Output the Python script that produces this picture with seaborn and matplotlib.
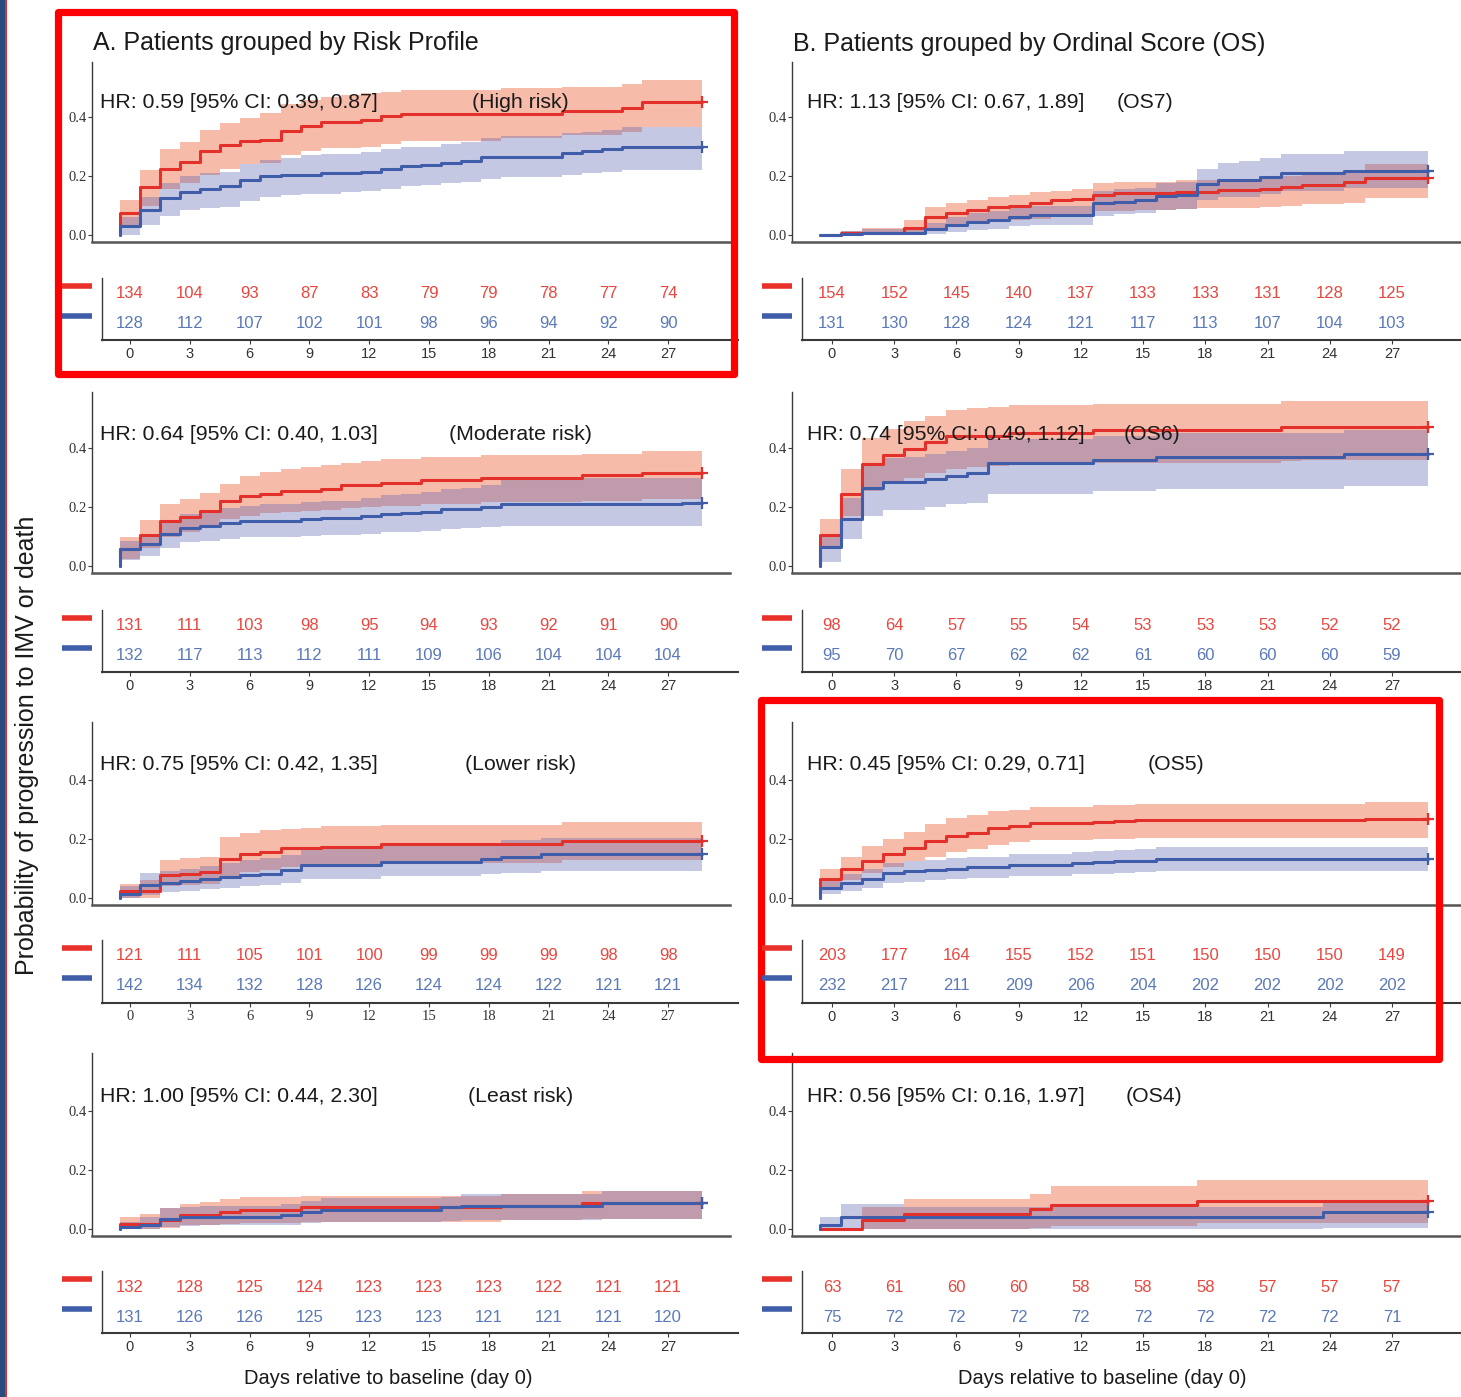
import numpy as np
import pandas as pd
import matplotlib
matplotlib.use("Agg")
import matplotlib.pyplot as plt
import seaborn as sns
from matplotlib.patches import Rectangle
from matplotlib.lines import Line2D

# ---------------- data ----------------
table_days = [0, 3, 6, 9, 12, 15, 18, 21, 24, 27]

# A. Risk profile -- High risk (values per day 0..28; red = first group, blue = second group)
A1_red_est = [.074,.162,.224,.248,.284,.306,.317,.323,.351,.368,.383,.383,.391,.402,.411,.411,.411,.411,.411,.411,.411,.411,.419,.419,.419,.430,.451,.451,.451]
A1_red_hi  = [.119,.221,.290,.315,.356,.381,.395,.412,.445,.458,.468,.475,.482,.485,.490,.490,.490,.490,.490,.497,.497,.497,.503,.503,.503,.512,.525,.525,.525]
A1_red_lo  = [.030,.100,.155,.175,.205,.225,.240,.245,.270,.285,.295,.295,.300,.310,.320,.320,.320,.320,.320,.330,.330,.330,.340,.340,.340,.350,.365,.365,.365]
A1_blue_est = [.030,.085,.125,.147,.157,.165,.188,.200,.203,.203,.210,.210,.213,.225,.235,.238,.245,.250,.265,.265,.265,.265,.278,.285,.290,.300,.300,.300,.300]
A1_blue_hi  = [.060,.130,.175,.200,.210,.215,.240,.255,.260,.270,.275,.275,.280,.290,.300,.300,.310,.315,.330,.335,.335,.335,.345,.350,.355,.365,.365,.365,.365]
A1_blue_lo  = [.000,.035,.065,.085,.090,.095,.115,.130,.135,.140,.140,.145,.150,.155,.165,.170,.175,.180,.190,.195,.195,.195,.205,.210,.215,.220,.220,.220,.220]
A1_n_red  = [134, 104, 93, 87, 83, 79, 79, 78, 77, 74]
A1_n_blue = [128, 112, 107, 102, 101, 98, 96, 94, 92, 90]

# Moderate risk
A2_red_est = [.057,.106,.151,.167,.188,.220,.237,.245,.253,.253,.262,.273,.273,.282,.282,.290,.290,.290,.300,.300,.300,.300,.300,.307,.307,.307,.316,.316,.316]
A2_red_hi  = [.097,.156,.210,.228,.247,.279,.305,.319,.330,.336,.344,.350,.356,.364,.364,.370,.370,.370,.375,.375,.375,.375,.375,.381,.381,.381,.390,.390,.390]
A2_red_lo  = [.025,.060,.100,.115,.130,.160,.170,.178,.183,.185,.190,.198,.200,.205,.205,.210,.210,.210,.218,.218,.218,.218,.218,.222,.222,.222,.228,.228,.228]
A2_blue_est = [.057,.074,.110,.130,.137,.145,.154,.154,.154,.160,.163,.163,.170,.176,.179,.184,.193,.193,.201,.210,.210,.210,.210,.210,.210,.210,.210,.210,.213]
A2_blue_hi  = [.085,.105,.150,.175,.185,.195,.205,.210,.210,.218,.222,.222,.232,.240,.245,.250,.262,.265,.275,.290,.295,.295,.295,.298,.298,.298,.300,.300,.300]
A2_blue_lo  = [.020,.035,.060,.080,.085,.090,.098,.098,.098,.102,.105,.105,.110,.114,.116,.120,.126,.128,.132,.137,.137,.137,.137,.137,.137,.137,.137,.137,.137]
A2_n_red  = [131, 111, 103, 98, 95, 94, 93, 92, 91, 90]
A2_n_blue = [132, 117, 113, 112, 111, 109, 106, 104, 104, 104]

# Lower risk
A3_red_est = [.025,.025,.079,.083,.088,.131,.148,.156,.168,.168,.173,.173,.173,.182,.182,.182,.182,.182,.182,.182,.182,.182,.193,.193,.193,.193,.193,.193,.193]
A3_red_hi  = [.049,.060,.128,.134,.139,.207,.219,.230,.233,.238,.244,.244,.244,.247,.247,.247,.247,.247,.247,.247,.247,.247,.258,.258,.258,.258,.258,.258,.258]
A3_red_lo  = [.000,.000,.040,.043,.046,.075,.088,.095,.105,.105,.110,.110,.110,.118,.118,.118,.118,.118,.118,.118,.118,.118,.128,.128,.128,.128,.128,.128,.128]
A3_blue_est = [.015,.043,.052,.058,.066,.071,.077,.083,.094,.111,.111,.111,.111,.122,.122,.122,.122,.122,.131,.139,.139,.148,.148,.148,.148,.148,.148,.148,.148]
A3_blue_hi  = [.040,.085,.090,.100,.110,.120,.130,.135,.145,.165,.165,.165,.165,.180,.180,.180,.180,.180,.187,.195,.195,.205,.205,.205,.205,.205,.205,.205,.205]
A3_blue_lo  = [.000,.010,.020,.025,.030,.035,.040,.045,.050,.065,.065,.065,.065,.075,.075,.075,.075,.075,.080,.085,.085,.090,.090,.090,.090,.090,.090,.090,.090]
A3_n_red  = [121, 111, 105, 101, 100, 99, 99, 99, 98, 98]
A3_n_blue = [142, 134, 132, 128, 126, 124, 124, 122, 121, 121]

# Least risk
A4_red_est = [.017,.017,.032,.048,.048,.059,.064,.064,.064,.073,.073,.073,.073,.073,.073,.073,.073,.073,.073,.079,.079,.079,.079,.088,.088,.088,.088,.088,.088]
A4_red_hi  = [.040,.050,.070,.085,.090,.100,.108,.108,.108,.113,.113,.113,.113,.113,.113,.113,.113,.113,.113,.120,.120,.120,.120,.130,.130,.130,.130,.130,.130]
A4_red_lo  = [.000,.000,.005,.012,.012,.018,.020,.020,.020,.025,.025,.025,.025,.025,.025,.025,.025,.025,.025,.030,.030,.030,.030,.035,.035,.035,.035,.035,.035]
A4_blue_est = [.008,.015,.035,.040,.042,.042,.042,.042,.048,.057,.066,.066,.066,.066,.066,.066,.073,.079,.079,.079,.079,.079,.079,.079,.087,.087,.087,.087,.087]
A4_blue_hi  = [.025,.040,.070,.075,.078,.078,.078,.078,.085,.095,.105,.105,.105,.105,.105,.105,.110,.120,.120,.120,.120,.120,.120,.120,.130,.130,.130,.130,.130]
A4_blue_lo  = [.000,.000,.008,.010,.012,.012,.012,.012,.015,.020,.025,.025,.025,.025,.025,.025,.028,.030,.030,.030,.030,.030,.030,.030,.033,.033,.033,.033,.033]
A4_n_red  = [132, 128, 125, 124, 123, 123, 123, 122, 121, 121]
A4_n_blue = [131, 126, 126, 125, 123, 123, 121, 121, 121, 120]

# B. Ordinal score -- OS7
B1_red_est = [.000,.006,.008,.008,.023,.060,.076,.085,.096,.100,.110,.119,.121,.136,.141,.144,.144,.147,.147,.153,.153,.155,.162,.169,.169,.179,.192,.192,.192]
B1_red_hi  = [.000,.015,.025,.025,.050,.095,.110,.120,.130,.135,.145,.150,.155,.175,.180,.180,.180,.185,.185,.190,.190,.195,.200,.210,.210,.220,.240,.240,.240]
B1_red_lo  = [.000,.000,.000,.000,.002,.020,.035,.040,.045,.050,.055,.060,.065,.080,.080,.085,.085,.088,.090,.090,.092,.095,.100,.105,.105,.110,.125,.125,.125]
B1_blue_est = [.000,.005,.007,.007,.007,.019,.034,.045,.050,.060,.068,.068,.068,.107,.113,.119,.132,.136,.172,.186,.186,.198,.209,.209,.209,.218,.218,.218,.218]
B1_blue_hi  = [.000,.015,.020,.020,.020,.040,.060,.075,.080,.090,.100,.100,.100,.150,.155,.160,.175,.180,.225,.245,.250,.260,.275,.275,.275,.285,.285,.285,.285]
B1_blue_lo  = [.000,.000,.000,.000,.000,.002,.010,.018,.022,.030,.035,.035,.035,.065,.070,.075,.085,.088,.120,.130,.130,.140,.150,.150,.150,.160,.160,.160,.160]
B1_n_red  = [154, 152, 145, 140, 137, 133, 133, 131, 128, 125]
B1_n_blue = [131, 130, 128, 124, 121, 117, 113, 107, 104, 103]

# OS6
B2_red_est = [.104,.245,.347,.375,.398,.420,.440,.440,.440,.451,.451,.451,.451,.460,.460,.460,.460,.460,.460,.460,.460,.460,.471,.471,.471,.471,.471,.471,.471]
B2_red_hi  = [.160,.330,.435,.465,.490,.510,.530,.535,.540,.545,.545,.545,.545,.550,.550,.550,.550,.550,.550,.550,.550,.550,.560,.560,.560,.560,.560,.560,.560]
B2_red_lo  = [.060,.170,.255,.280,.300,.315,.330,.335,.340,.345,.345,.345,.345,.350,.350,.350,.350,.350,.350,.350,.350,.350,.355,.358,.358,.358,.358,.358,.358]
B2_blue_est = [.063,.160,.265,.285,.285,.295,.305,.315,.350,.350,.350,.350,.350,.360,.360,.360,.370,.370,.370,.370,.370,.370,.370,.370,.370,.380,.380,.380,.380]
B2_blue_hi  = [.100,.230,.345,.365,.370,.380,.390,.400,.430,.430,.430,.430,.430,.440,.440,.440,.450,.450,.450,.450,.450,.450,.450,.450,.450,.460,.460,.460,.460]
B2_blue_lo  = [.015,.090,.170,.190,.190,.200,.210,.215,.245,.245,.245,.245,.245,.255,.255,.255,.260,.260,.260,.260,.260,.260,.260,.260,.260,.270,.270,.270,.270]
B2_n_red  = [98, 64, 57, 55, 54, 53, 53, 53, 52, 52]
B2_n_blue = [95, 70, 67, 62, 62, 61, 60, 60, 60, 59]

# OS5
B3_red_est = [.064,.098,.126,.149,.171,.192,.209,.222,.237,.245,.254,.254,.254,.257,.262,.263,.263,.263,.263,.263,.263,.263,.263,.263,.263,.263,.268,.268,.268]
B3_red_hi  = [.100,.140,.175,.200,.225,.250,.270,.280,.295,.300,.310,.310,.310,.315,.315,.320,.320,.320,.320,.320,.320,.320,.320,.320,.320,.320,.325,.325,.325]
B3_red_lo  = [.035,.060,.085,.105,.125,.140,.155,.165,.180,.190,.195,.195,.195,.200,.200,.203,.203,.203,.203,.203,.203,.203,.203,.203,.203,.203,.205,.205,.205]
B3_blue_est = [.035,.050,.066,.085,.090,.095,.100,.104,.104,.113,.113,.113,.118,.121,.124,.127,.132,.132,.132,.132,.132,.132,.132,.132,.132,.132,.132,.132,.132]
B3_blue_hi  = [.060,.080,.100,.120,.125,.130,.135,.140,.140,.150,.150,.150,.155,.160,.163,.167,.172,.172,.172,.172,.172,.172,.172,.172,.172,.172,.172,.172,.172]
B3_blue_lo  = [.015,.025,.035,.050,.055,.060,.065,.068,.068,.075,.075,.075,.080,.082,.085,.087,.090,.090,.090,.090,.090,.090,.090,.090,.090,.090,.090,.090,.090]
B3_n_red  = [203, 177, 164, 155, 152, 151, 150, 150, 150, 149]
B3_n_blue = [232, 217, 211, 209, 206, 204, 202, 202, 202, 202]

# OS4
B4_red_est = [.000,.000,.032,.032,.050,.050,.050,.050,.050,.050,.068,.082,.082,.082,.082,.082,.082,.082,.096,.096,.096,.096,.096,.096,.096,.096,.096,.096,.096]
B4_red_hi  = [.000,.000,.075,.075,.100,.100,.100,.100,.100,.100,.120,.145,.145,.145,.145,.145,.145,.145,.165,.165,.165,.165,.165,.165,.165,.165,.165,.165,.165]
B4_red_lo  = [.000,.000,.000,.000,.000,.000,.000,.000,.000,.000,.002,.010,.010,.010,.010,.010,.010,.010,.020,.020,.020,.020,.020,.020,.020,.020,.020,.020,.020]
B4_blue_est = [.012,.042,.042,.042,.042,.042,.042,.042,.042,.042,.042,.042,.042,.042,.042,.042,.042,.042,.042,.042,.042,.042,.042,.042,.059,.059,.059,.059,.059]
B4_blue_hi  = [.040,.085,.085,.085,.075,.075,.075,.075,.075,.075,.075,.075,.075,.075,.075,.075,.075,.075,.075,.075,.075,.075,.075,.075,.095,.095,.095,.095,.095]
B4_blue_lo  = [.000,.000,.000,.000,.000,.000,.000,.000,.000,.000,.000,.000,.000,.000,.000,.000,.000,.000,.000,.000,.000,.000,.000,.000,.005,.005,.005,.005,.005]
B4_n_red  = [63, 61, 60, 60, 58, 58, 58, 57, 57, 57]
B4_n_blue = [75, 72, 72, 72, 72, 72, 72, 72, 72, 71]

hr_texts = {
    "A1": "HR: 0.59 [95% CI: 0.39, 0.87]", "A2": "HR: 0.64 [95% CI: 0.40, 1.03]",
    "A3": "HR: 0.75 [95% CI: 0.42, 1.35]", "A4": "HR: 1.00 [95% CI: 0.44, 2.30]",
    "B1": "HR: 1.13 [95% CI: 0.67, 1.89]", "B2": "HR: 0.74 [95% CI: 0.49, 1.12]",
    "B3": "HR: 0.45 [95% CI: 0.29, 0.71]", "B4": "HR: 0.56 [95% CI: 0.16, 1.97]",
}
group_labels = {
    "A1": "(High risk)", "A2": "(Moderate risk)", "A3": "(Lower risk)", "A4": "(Least risk)",
    "B1": "(OS7)", "B2": "(OS6)", "B3": "(OS5)", "B4": "(OS4)",
}
series = {
    "A1": (A1_red_est, A1_red_lo, A1_red_hi, A1_blue_est, A1_blue_lo, A1_blue_hi, A1_n_red, A1_n_blue),
    "A2": (A2_red_est, A2_red_lo, A2_red_hi, A2_blue_est, A2_blue_lo, A2_blue_hi, A2_n_red, A2_n_blue),
    "A3": (A3_red_est, A3_red_lo, A3_red_hi, A3_blue_est, A3_blue_lo, A3_blue_hi, A3_n_red, A3_n_blue),
    "A4": (A4_red_est, A4_red_lo, A4_red_hi, A4_blue_est, A4_blue_lo, A4_blue_hi, A4_n_red, A4_n_blue),
    "B1": (B1_red_est, B1_red_lo, B1_red_hi, B1_blue_est, B1_blue_lo, B1_blue_hi, B1_n_red, B1_n_blue),
    "B2": (B2_red_est, B2_red_lo, B2_red_hi, B2_blue_est, B2_blue_lo, B2_blue_hi, B2_n_red, B2_n_blue),
    "B3": (B3_red_est, B3_red_lo, B3_red_hi, B3_blue_est, B3_blue_lo, B3_blue_hi, B3_n_red, B3_n_blue),
    "B4": (B4_red_est, B4_red_lo, B4_red_hi, B4_blue_est, B4_blue_lo, B4_blue_hi, B4_n_red, B4_n_blue),
}

# ---------------- style ----------------
sns.set_theme(style="white")
plt.rcParams["font.family"] = ["Liberation Sans", "DejaVu Sans"]

RED_LINE, BLUE_LINE = "#E4302A", "#3F5DA8"
RED_FILL, BLUE_FILL = "#EE6A43", "#5A62B0"
RED_TXT, BLUE_TXT = "#E8473F", "#5B79B8"
AX_COL = "#3A3A3A"

W, H = 1461, 1397
fig = plt.figure(figsize=(W / 100, H / 100), dpi=100)
fig.patch.set_facecolor("white")


def rect(x0, y0, x1, y1):
    return [x0 / W, 1 - y1 / H, (x1 - x0) / W, (y1 - y0) / H]


cols = {
    "A": dict(km_x=(92, 730), start=120, ppd=20.07, tb_x=(102, 738), d0=130, tppd=19.93,
              strip=(62, 92), hr_x=100, grp_x=[472, 449, 465, 468]),
    "B": dict(km_x=(792, 1461), start=820, ppd=20.97, tb_x=(802, 1461), d0=832, tppd=20.74,
              strip=(762, 792), hr_x=807, grp_x=[1117, 1124, 1148, 1126]),
}
km_rows = [(62, 242), (392, 573), (722, 905), (1053, 1236)]
tb_rows = [(278, 340), (610, 672), (940, 1003), (1271, 1333)]
text_y = [103, 434, 765, 1096]

t_end = np.arange(30)

for c in ["A", "B"]:
    cfg = cols[c]
    for r in range(4):
        key = f"{c}{r+1}"
        re_, rl, rh, be, bl, bh, nr, nb = series[key]
        x0, x1 = cfg["km_x"]
        y0, y1 = km_rows[r]
        ax = fig.add_axes(rect(x0, y0, x1, y1))
        ax.set_facecolor("none")
        xl = (-(cfg["start"] - x0) / cfg["ppd"], 29 + (x1 - (cfg["start"] + 29 * cfg["ppd"])) / cfg["ppd"])
        ax.set_xlim(*xl)
        ax.set_ylim(-7 / 295, (y1 - y0 - 7) / 295)

        # confidence bands
        ax.fill_between(t_end, np.append(rl, rl[-1]), np.append(rh, rh[-1]), step="post",
                        color=RED_FILL, alpha=0.45, linewidth=0)
        ax.fill_between(t_end, np.append(bl, bl[-1]), np.append(bh, bh[-1]), step="post",
                        color=BLUE_FILL, alpha=0.35, linewidth=0)

        rows = []
        for grp, est in (("red", re_), ("blue", be)):
            tt = np.concatenate([[0], t_end])
            vv = np.concatenate([[0], est, [est[-1]]])
            rows.append(pd.DataFrame({"day": tt, "prob": vv, "group": grp}))
        df = pd.concat(rows, ignore_index=True)
        sns.lineplot(data=df, x="day", y="prob", hue="group", palette={"red": RED_LINE, "blue": BLUE_LINE},
                     estimator=None, sort=False, drawstyle="steps-post", linewidth=2.2, legend=False, ax=ax)
        ax.plot([29], [re_[-1]], marker="+", ms=9, mew=1.6, color=RED_LINE)
        ax.plot([29], [be[-1]], marker="+", ms=9, mew=1.6, color=BLUE_LINE)

        for s in ["top", "right"]:
            ax.spines[s].set_visible(False)
        ax.spines["left"].set_color(AX_COL)
        ax.spines["left"].set_linewidth(1.0)
        ax.spines["bottom"].set_color("#555555")
        ax.spines["bottom"].set_linewidth(1.8)
        ax.set_xticks([])
        ax.set_yticks([0, 0.2, 0.4])
        ax.set_yticklabels(["0.0", "0.2", "0.4"], family=["Liberation Serif"], fontsize=10.5, color="#333333")
        ax.tick_params(axis="y", left=True, length=3, width=0.8, color=AX_COL, pad=1)
        ax.set_xlabel("")
        ax.set_ylabel("")

        # risk table
        tx0, tx1 = cfg["tb_x"]
        ty0, ty1 = tb_rows[r]
        tb = fig.add_axes(rect(tx0, ty0, tx1, ty1))
        tb.set_facecolor("none")
        tb.set_xlim(-(cfg["d0"] - tx0) / cfg["tppd"], 27 + (tx1 - (cfg["d0"] + 27 * cfg["tppd"])) / cfg["tppd"])
        tb.set_ylim(0, 1)
        ry = (ty1 - (ty0 + 16)) / (ty1 - ty0)
        by = (ty1 - (ty0 + 46)) / (ty1 - ty0)
        for d, a, b in zip(table_days, nr, nb):
            tb.text(d, ry, str(a), ha="center", va="center", fontsize=12, color=RED_TXT)
            tb.text(d, by, str(b), ha="center", va="center", fontsize=12, color=BLUE_TXT)
        for s in ["top", "right"]:
            tb.spines[s].set_visible(False)
        tb.spines["left"].set_color(AX_COL)
        tb.spines["left"].set_linewidth(1.0)
        tb.spines["bottom"].set_color(AX_COL)
        tb.spines["bottom"].set_linewidth(1.5)
        tb.set_yticks([])
        tb.set_xticks(table_days)
        fam = ["Liberation Serif"] if key == "A3" else ["Liberation Sans"]
        tb.set_xticklabels([str(d) for d in table_days], fontsize=10.5, color="#333333", family=fam)
        tb.tick_params(axis="x", bottom=True, length=3, width=0.8, color=AX_COL, pad=2)

        # strata strips
        sx0, sx1 = cfg["strip"]
        for yy, colr in ((ty0 + 8, "#E8312A"), (ty0 + 38, "#3F5DA8")):
            fig.add_artist(Line2D([sx0 / W, sx1 / W], [1 - yy / H, 1 - yy / H], color=colr,
                                  linewidth=4.0, solid_capstyle="butt", transform=fig.transFigure))

        # texts
        fig.text(cfg["hr_x"] / W, 1 - text_y[r] / H, hr_texts[key], ha="left", va="center",
                 fontsize=15.3, color="#1a1a1a")
        fig.text(cfg["grp_x"][r] / W, 1 - text_y[r] / H, group_labels[key], ha="left", va="center",
                 fontsize=15.3, color="#1a1a1a")

fig.text(93 / W, 1 - 43 / H, "A. Patients grouped by Risk Profile", ha="left", va="center",
         fontsize=18, color="#1a1a1a")
fig.text(793 / W, 1 - 44 / H, "B. Patients grouped by Ordinal Score (OS)", ha="left", va="center",
         fontsize=18, color="#1a1a1a")
fig.text(27 / W, 1 - 745 / H, "Probability of progression to IMV or death", rotation=90,
         ha="center", va="center", fontsize=18, color="#1a1a1a")
fig.text(388 / W, 1 - 1378 / H, "Days relative to baseline (day 0)", ha="center", va="center",
         fontsize=14.5, color="#1a1a1a")
fig.text(1102 / W, 1 - 1378 / H, "Days relative to baseline (day 0)", ha="center", va="center",
         fontsize=14.5, color="#1a1a1a")

# highlight boxes and left border
for (bx0, by0, bx1, by1) in [(58.5, 11.5, 734.5, 373.5), (760.5, 699.5, 1438.5, 1058.5)]:
    fig.add_artist(Rectangle((bx0 / W, 1 - by1 / H), (bx1 - bx0) / W, (by1 - by0) / H,
                             fill=False, edgecolor="#FF0000", linewidth=5.2, joinstyle="round",
                             transform=fig.transFigure))
fig.add_artist(Rectangle((0, 0), 5 / W, 1, facecolor="#284B80", edgecolor="none", transform=fig.transFigure))
fig.add_artist(Rectangle((5 / W, 0), 2 / W, 1, facecolor="#D93030", edgecolor="none", transform=fig.transFigure))

fig.savefig("out.png", dpi=100)
